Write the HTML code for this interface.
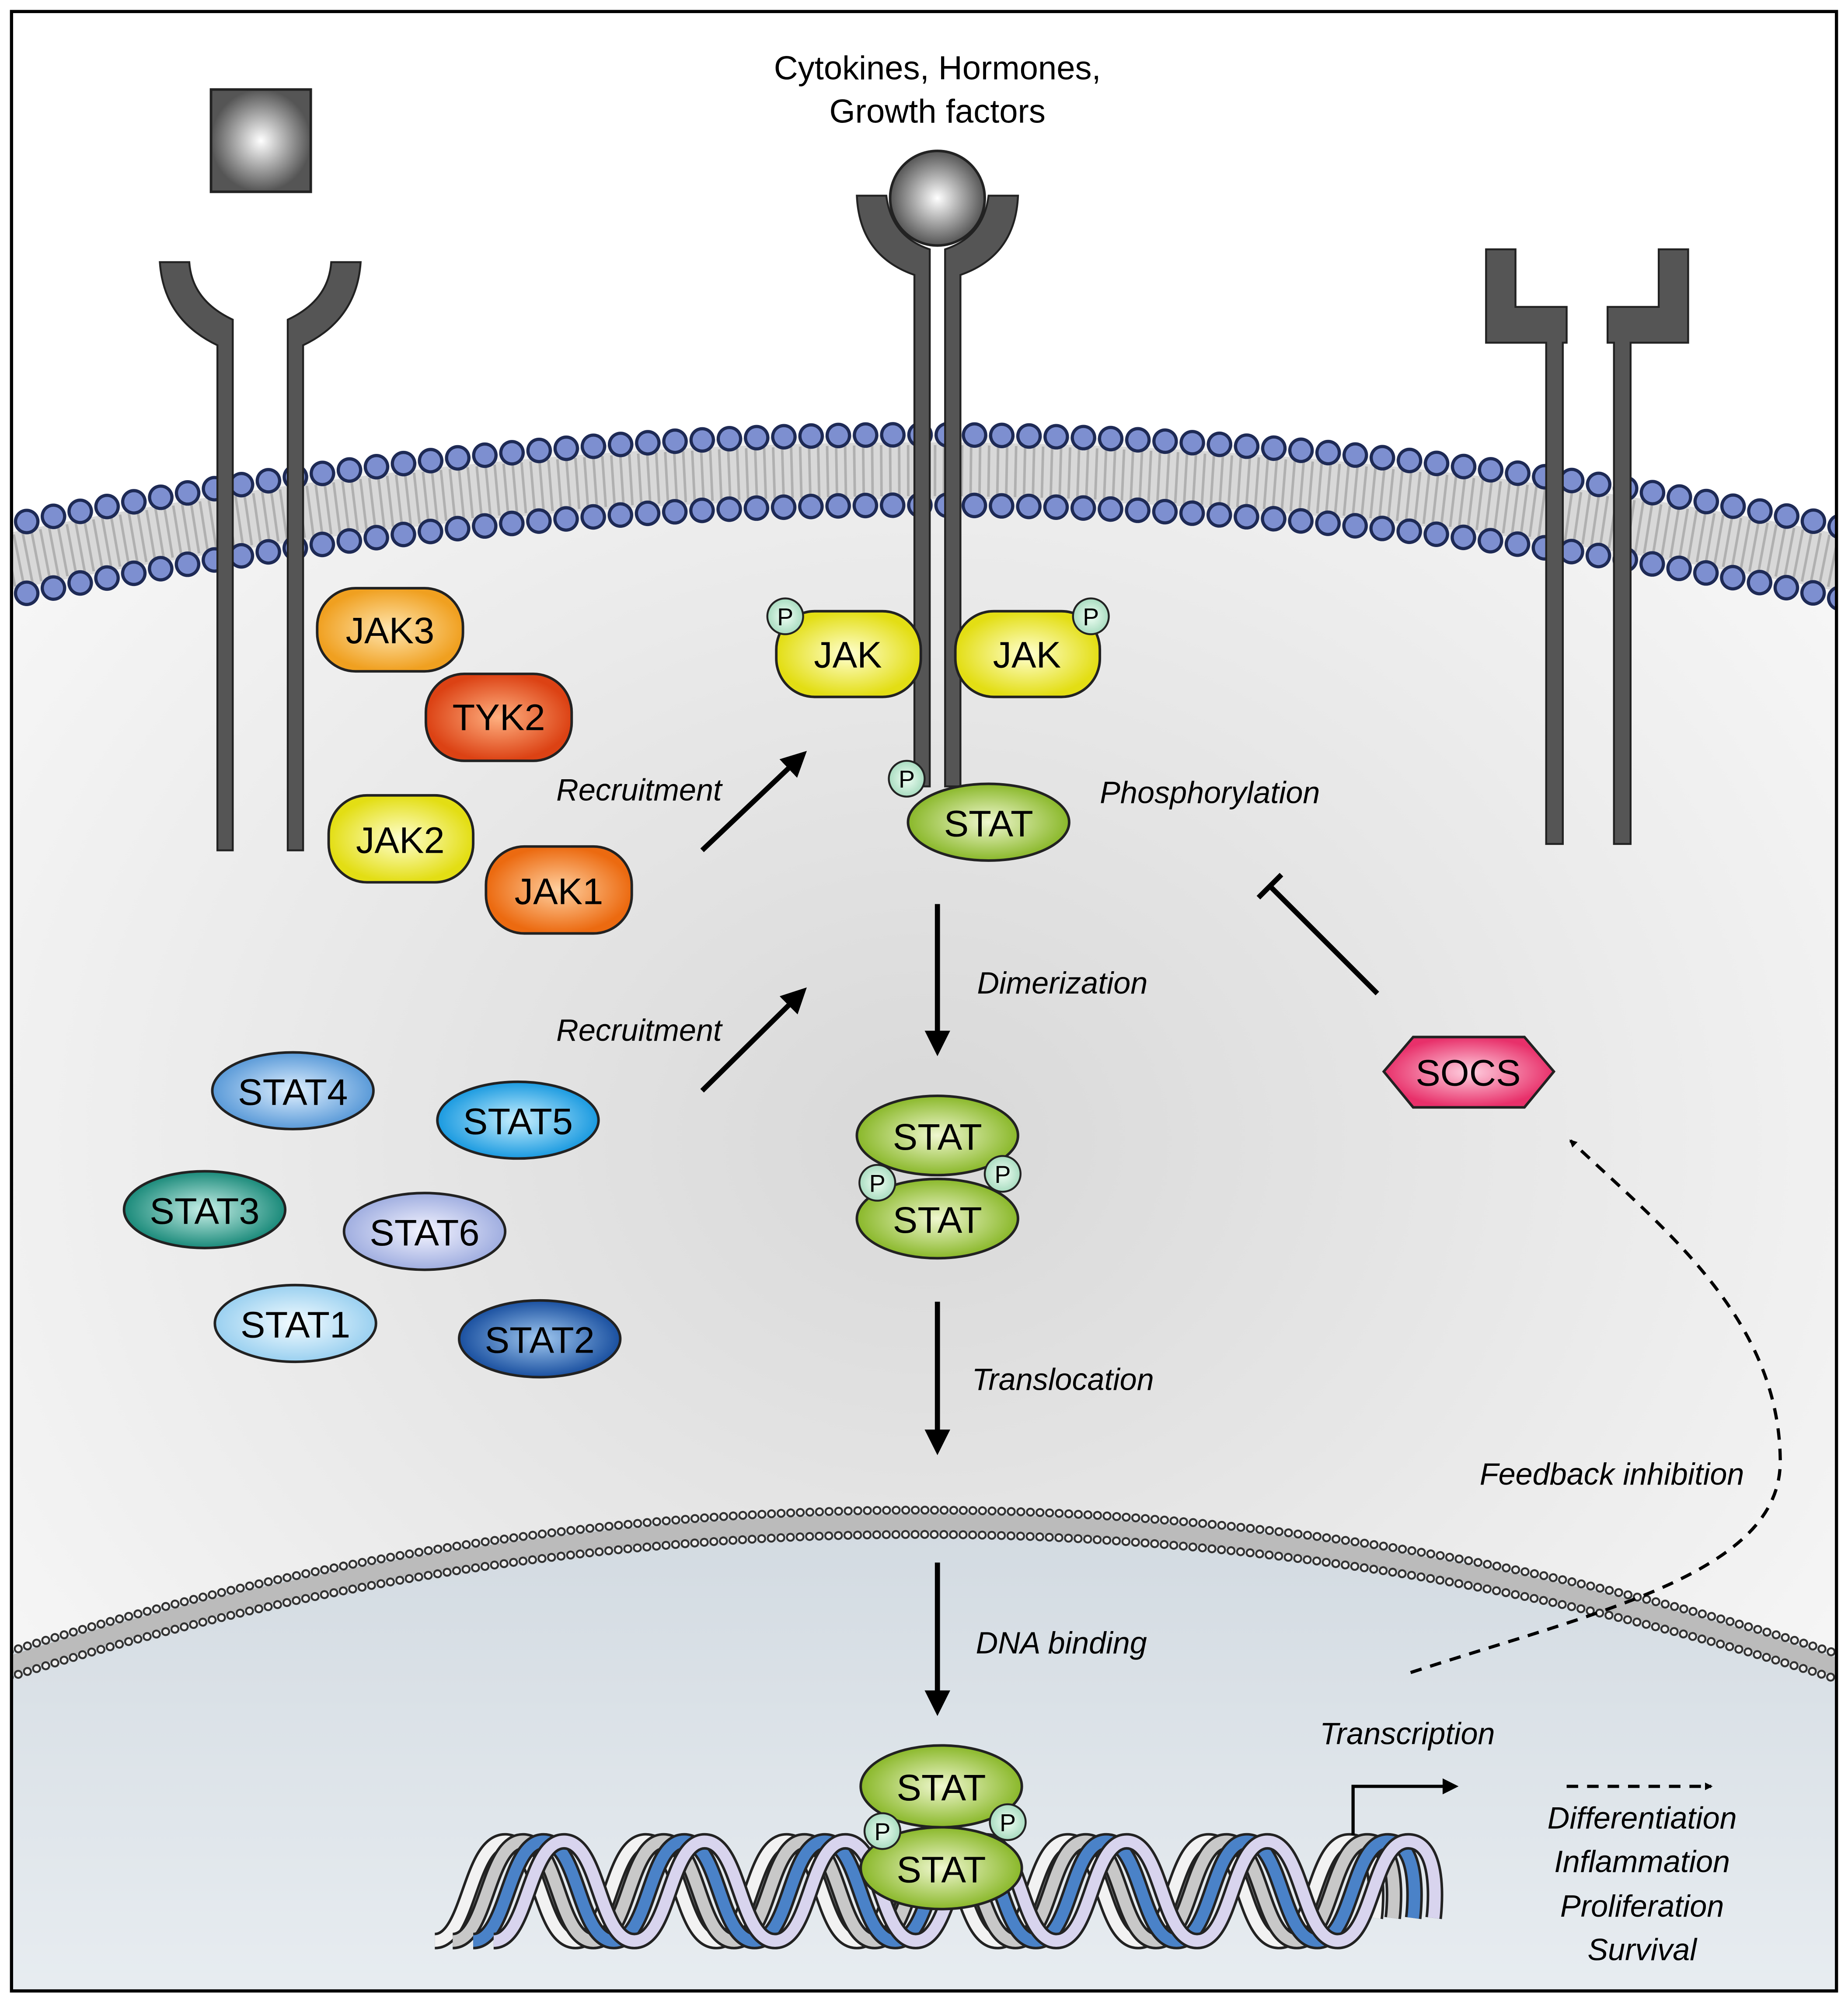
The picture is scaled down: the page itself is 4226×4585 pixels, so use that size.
<!DOCTYPE html>
<html><head><meta charset="utf-8"><style>html,body{margin:0;padding:0;background:#fff;width:4226px;height:4585px;overflow:hidden}svg{display:block}
text{font-family:"Liberation Sans",sans-serif}</style></head><body>
<svg width="4226" height="4585" viewBox="0 0 1445 1568" preserveAspectRatio="none" xmlns="http://www.w3.org/2000/svg">
<defs>
<clipPath id="fr"><rect x="9" y="9" width="1427" height="1548"/></clipPath>
<radialGradient id="cell" cx="0.5" cy="0.45" r="0.6"><stop offset="0" stop-color="#d8d8d8"/><stop offset="1" stop-color="#f6f6f6"/></radialGradient>
<linearGradient id="nuc" x1="0" y1="0" x2="0" y2="1"><stop offset="0" stop-color="#d2dae1"/><stop offset="1" stop-color="#e8edf1"/></linearGradient>
<radialGradient id="ball"><stop offset="0" stop-color="#fff"/><stop offset="1" stop-color="#555"/></radialGradient>
<radialGradient id="gY"><stop offset="0" stop-color="#ffffd0"/><stop offset="1" stop-color="#e3de14"/></radialGradient>
<radialGradient id="gO"><stop offset="0" stop-color="#ffe6b0"/><stop offset="1" stop-color="#f0a020"/></radialGradient>
<radialGradient id="gR"><stop offset="0" stop-color="#ffb080"/><stop offset="1" stop-color="#dc4214"/></radialGradient>
<radialGradient id="gJ1"><stop offset="0" stop-color="#ffd0a0"/><stop offset="1" stop-color="#ec6a10"/></radialGradient>
<radialGradient id="gG"><stop offset="0" stop-color="#f0f8d0"/><stop offset="1" stop-color="#8ab82a"/></radialGradient>
<radialGradient id="gB4"><stop offset="0" stop-color="#e0f0ff"/><stop offset="1" stop-color="#5a9ad8"/></radialGradient>
<radialGradient id="gB5"><stop offset="0" stop-color="#c8f0ff"/><stop offset="1" stop-color="#1a9ae0"/></radialGradient>
<radialGradient id="gT"><stop offset="0" stop-color="#c8f0e8"/><stop offset="1" stop-color="#1a8a7a"/></radialGradient>
<radialGradient id="gL"><stop offset="0" stop-color="#f4f4ff"/><stop offset="1" stop-color="#a0aee0"/></radialGradient>
<radialGradient id="gB1"><stop offset="0" stop-color="#f4fcff"/><stop offset="1" stop-color="#9ad0f0"/></radialGradient>
<radialGradient id="gB2"><stop offset="0" stop-color="#a0c8f0"/><stop offset="1" stop-color="#1a50a0"/></radialGradient>
<radialGradient id="gP"><stop offset="0" stop-color="#ffd0e0"/><stop offset="1" stop-color="#e8306a"/></radialGradient>
<radialGradient id="gPh"><stop offset="0" stop-color="#f0fff4"/><stop offset="1" stop-color="#a8dcc0"/></radialGradient>
<marker id="ah" viewBox="0 0 10 10" refX="8" refY="5" markerWidth="5" markerHeight="5" orient="auto"><path d="M0 0L10 5L0 10z" fill="#000"/></marker>
<marker id="ah2" viewBox="0 0 10 10" refX="8" refY="5" markerWidth="6" markerHeight="6" orient="auto" markerUnits="userSpaceOnUse"><path d="M0 0L10 5L0 10z" fill="#000"/></marker>
<path id="dna" d="M340 1518 C367 1518 367 1440 395 1440 S422 1518 450 1518 S477 1440 505 1440 S532 1518 560 1518 S587 1440 615 1440 S642 1518 670 1518 S697 1440 725 1440 S752 1518 780 1518 S807 1440 835 1440 S862 1518 890 1518 S917 1440 945 1440 S972 1518 1000 1518 S1027 1440 1055 1440 S1075 1500 1075 1500"/>
<path id="m1" d="M0 412 A3636 3636 0 0 1 1445 413"/>
<path id="m2" d="M0 440.6 A3608 3608 0 0 1 1445 441.6"/>
<path id="m3" d="M0 468.2 A3581 3581 0 0 1 1445 469.2"/>
<path id="n1" d="M0 1294 A2346 2346 0 0 1 1445 1296"/>
<path id="n2" d="M0 1304.5 A2336 2336 0 0 1 1445 1306.5"/>
<path id="n3" d="M0 1314 A2327 2327 0 0 1 1445 1316"/>
</defs>
<rect x="0" y="0" width="1445" height="1568" fill="#fff"/>
<g clip-path="url(#fr)">
<path d="M0 412 A3636 3636 0 0 1 1445 413 L1445 1568 L0 1568Z" fill="url(#cell)"/>
<path d="M0 1294 A2346 2346 0 0 1 1445 1296 L1445 1568 L0 1568Z" fill="url(#nuc)"/>
<g fill="none">
<use href="#m2" stroke="#d8d8d8" stroke-width="44"/>
<use href="#m2" stroke="#b0b0b0" stroke-width="40" stroke-dasharray="2 5"/>
<use href="#m1" stroke="#1e2a55" stroke-width="20" stroke-linecap="round" stroke-dasharray="0 21.3"/>
<use href="#m1" stroke="#7d8fd0" stroke-width="15" stroke-linecap="round" stroke-dasharray="0 21.3"/>
<use href="#m3" stroke="#1e2a55" stroke-width="20" stroke-linecap="round" stroke-dasharray="0 21.3"/>
<use href="#m3" stroke="#7d8fd0" stroke-width="15" stroke-linecap="round" stroke-dasharray="0 21.3"/>
<use href="#n2" stroke="#bbb" stroke-width="14"/>
<use href="#n1" stroke="#333" stroke-width="7" stroke-linecap="round" stroke-dasharray="0 7.5"/>
<use href="#n1" stroke="#eee" stroke-width="4" stroke-linecap="round" stroke-dasharray="0 7.5"/>
<use href="#n3" stroke="#333" stroke-width="7" stroke-linecap="round" stroke-dasharray="0 7.5"/>
<use href="#n3" stroke="#eee" stroke-width="4" stroke-linecap="round" stroke-dasharray="0 7.5"/>
</g>
</g>
<rect x="9" y="9" width="1427" height="1548" fill="none" stroke="#000" stroke-width="2.5"/>

<rect x="165" y="70" width="78" height="80" fill="url(#ball)" stroke="#222" stroke-width="2"/>
<path d="M125 205 L148 205 Q150 235 182 250 L182 665 L170 665 L170 270 Q128 250 125 205Z" fill="#555" stroke="#222" stroke-width="1.5"/>
<path d="M282 205 L259 205 Q257 235 225 250 L225 665 L237 665 L237 270 Q279 250 282 205Z" fill="#555" stroke="#222" stroke-width="1.5"/>
<path d="M670 153 L693 153 Q697 185 727 195 L727 615 L715 615 L715 215 Q672 200 670 153Z" fill="#555" stroke="#222" stroke-width="1.5"/>
<path d="M796 153 L773 153 Q769 185 739 195 L739 615 L751 615 L751 215 Q794 200 796 153Z" fill="#555" stroke="#222" stroke-width="1.5"/>
<circle cx="733" cy="155" r="37" fill="url(#ball)" stroke="#222" stroke-width="2"/>
<path d="M1162 195 L1185 195 L1185 240 L1225 240 L1225 268 L1222 268 L1222 660 L1209 660 L1209 268 L1162 268Z" fill="#555" stroke="#222" stroke-width="1.5"/>
<path d="M1320 195 L1297 195 L1297 240 L1257 240 L1257 268 L1262 268 L1262 660 L1275 660 L1275 268 L1320 268Z" fill="#555" stroke="#222" stroke-width="1.5"/>

<text x="733" y="62" font-size="26" text-anchor="middle">Cytokines, Hormones,</text>
<text x="733" y="96" font-size="26" text-anchor="middle">Growth factors</text>

<g stroke="#222" stroke-width="2">
<rect x="248" y="460" width="114" height="65" rx="30" fill="url(#gO)"/>
<rect x="333" y="527" width="114" height="68" rx="30" fill="url(#gR)"/>
<rect x="257" y="622" width="113" height="68" rx="30" fill="url(#gY)"/>
<rect x="380" y="662" width="114" height="68" rx="30" fill="url(#gJ1)"/>
<rect x="607" y="478" width="113" height="67" rx="30" fill="url(#gY)"/>
<rect x="747" y="478" width="113" height="67" rx="30" fill="url(#gY)"/>
</g>
<g font-size="29" text-anchor="middle">
<text x="305" y="503">JAK3</text><text x="390" y="571">TYK2</text><text x="313" y="667">JAK2</text><text x="437" y="707">JAK1</text>
<text x="663" y="522">JAK</text><text x="803" y="522">JAK</text>
</g>
<g stroke="#222" stroke-width="2">
<ellipse cx="229" cy="853" rx="63" ry="30" fill="url(#gB4)"/>
<ellipse cx="405" cy="876" rx="63" ry="30" fill="url(#gB5)"/>
<ellipse cx="160" cy="946" rx="63" ry="30" fill="url(#gT)"/>
<ellipse cx="332" cy="963" rx="63" ry="30" fill="url(#gL)"/>
<ellipse cx="231" cy="1035" rx="63" ry="30" fill="url(#gB1)"/>
<ellipse cx="422" cy="1047" rx="63" ry="30" fill="url(#gB2)"/>
<ellipse cx="773" cy="643" rx="63" ry="30" fill="url(#gG)"/>
<ellipse cx="733" cy="953" rx="63" ry="31" fill="url(#gG)"/>
<ellipse cx="733" cy="888" rx="63" ry="31" fill="url(#gG)"/>
</g>
<g font-size="29" text-anchor="middle">
<text x="229" y="864">STAT4</text><text x="405" y="887">STAT5</text><text x="160" y="957">STAT3</text><text x="332" y="974">STAT6</text>
<text x="231" y="1046">STAT1</text><text x="422" y="1058">STAT2</text><text x="773" y="654">STAT</text>
<text x="733" y="899">STAT</text><text x="733" y="964">STAT</text>
</g>

<g fill="none">
<use href="#dna" stroke="#222" stroke-width="13"/><use href="#dna" stroke="#f2f2f2" stroke-width="9"/>
<g transform="translate(14 0)"><use href="#dna" stroke="#222" stroke-width="13"/><use href="#dna" stroke="#c8c8c8" stroke-width="9"/></g>
<g transform="translate(30 0)"><use href="#dna" stroke="#222" stroke-width="13"/><use href="#dna" stroke="#4a82c8" stroke-width="9"/></g>
<g transform="translate(46 0)"><use href="#dna" stroke="#222" stroke-width="13"/><use href="#dna" stroke="#d8d4ee" stroke-width="9"/></g>
</g>
<g stroke="#222" stroke-width="2">
<ellipse cx="736" cy="1461" rx="63" ry="32" fill="url(#gG)"/>
<ellipse cx="736" cy="1397" rx="63" ry="32" fill="url(#gG)"/>
</g>
<g font-size="29" text-anchor="middle"><text x="736" y="1408">STAT</text><text x="736" y="1472">STAT</text></g>

<g stroke="#222" stroke-width="1.5" fill="url(#gPh)">
<circle cx="614" cy="482" r="14"/><circle cx="853" cy="482" r="14"/><circle cx="709" cy="609" r="14"/>
<circle cx="686" cy="925" r="14"/><circle cx="784" cy="918" r="14"/>
<circle cx="690" cy="1432" r="14"/><circle cx="788" cy="1425" r="14"/>
</g>
<g font-size="19" text-anchor="middle">
<text x="614" y="489">P</text><text x="853" y="489">P</text><text x="709" y="616">P</text>
<text x="686" y="932">P</text><text x="784" y="925">P</text><text x="690" y="1439">P</text><text x="788" y="1432">P</text>
</g>

<g stroke="#000" stroke-width="4" fill="none">
<line x1="549" y1="665" x2="628" y2="590" marker-end="url(#ah)"/>
<line x1="549" y1="853" x2="628" y2="775" marker-end="url(#ah)"/>
<line x1="733" y1="707" x2="733" y2="822" marker-end="url(#ah)"/>
<line x1="733" y1="1018" x2="733" y2="1134" marker-end="url(#ah)"/>
<line x1="733" y1="1222" x2="733" y2="1338" marker-end="url(#ah)"/>
<line x1="1077" y1="777" x2="993" y2="693"/>
<line x1="984" y1="702" x2="1002" y2="684"/>
<path d="M1058 1435 L1058 1397 L1138 1397" marker-end="url(#ah)" stroke-width="2.5"/>
</g>
<g stroke="#000" stroke-width="2.5" fill="none" stroke-dasharray="9 7">
<path d="M1103 1308 C1250 1260 1395 1230 1392 1140 C1390 1030 1300 960 1228 892" marker-end="url(#ah2)"/>
<line x1="1225" y1="1397" x2="1338" y2="1397" marker-end="url(#ah2)"/>
</g>
<polygon points="1082,838 1105,811 1192,811 1215,838 1192,866 1105,866" fill="url(#gP)" stroke="#222" stroke-width="2"/>
<text x="1148" y="849" font-size="29" text-anchor="middle">SOCS</text>

<g font-size="24" font-style="italic">
<text x="435" y="626">Recruitment</text>
<text x="435" y="814">Recruitment</text>
<text x="860" y="628">Phosphorylation</text>
<text x="764" y="777">Dimerization</text>
<text x="760" y="1087">Translocation</text>
<text x="763" y="1293">DNA binding</text>
<text x="1157" y="1161">Feedback inhibition</text>
<text x="1032" y="1364">Transcription</text>
</g>
<g font-size="24" font-style="italic" text-anchor="middle">
<text x="1284" y="1430">Differentiation</text>
<text x="1284" y="1464">Inflammation</text>
<text x="1284" y="1499">Proliferation</text>
<text x="1284" y="1533">Survival</text>
</g>
</svg>
</body></html>
